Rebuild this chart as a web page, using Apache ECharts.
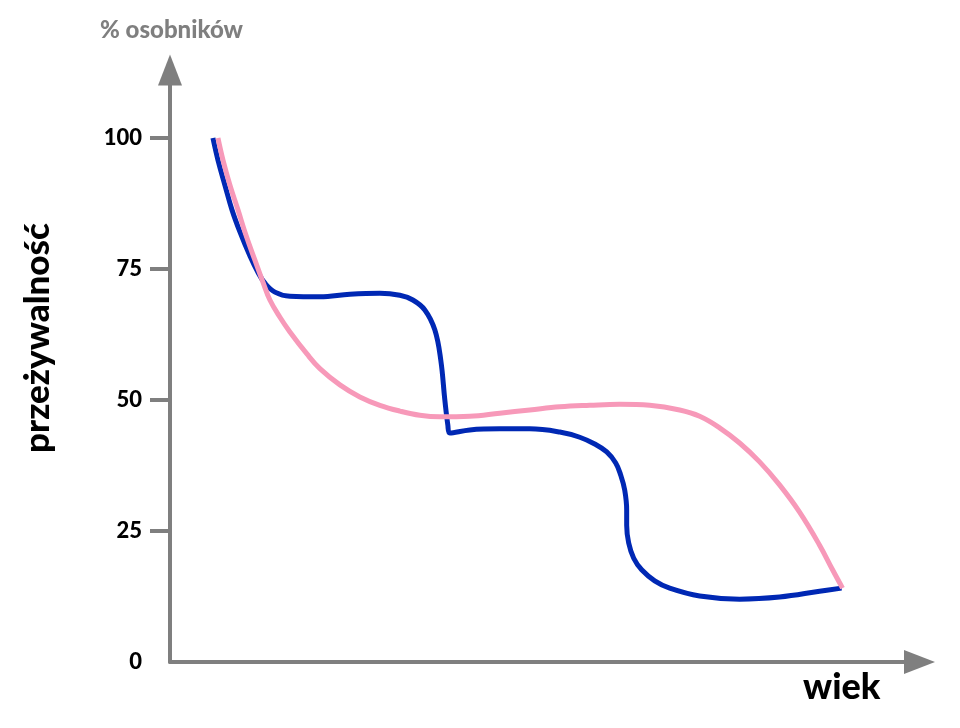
<!DOCTYPE html>
<html>
<head>
<meta charset="utf-8">
<script src="https://cdn.jsdelivr.net/npm/echarts@6/dist/echarts.min.js"></script>
<style>html,body{margin:0;padding:0;background:#fff}#c{width:960px;height:728px}</style>
</head>
<body>
<div id="c"></div>
<script>
// Tick labels on the survival axis
const yTicks = [0, 25, 50, 75, 100];

// Blue curve (wiek, przeżywalność %)
const blueX = [5.73, 6.4, 7.33, 8.27, 9.33, 10.67, 11.73, 12.67, 14.0, 16.0, 20.0, 24.0, 28.0, 30.67, 32.4, 34.0, 35.33, 36.13, 36.67, 37.07, 37.33, 40.0, 44.0, 48.0, 52.0, 54.67, 56.67, 58.27, 59.47, 60.13, 60.67, 60.93, 60.93, 61.2, 61.87, 62.93, 64.67, 66.67, 70.67, 76.0, 81.33, 86.67, 89.6];
const blueY = [100, 95.8, 91.0, 86.3, 82.1, 77.5, 74.4, 72.3, 70.6, 69.8, 69.7, 70.2, 70.4, 70.0, 69.1, 67.2, 63.4, 57.6, 50.0, 45.2, 43.7, 44.3, 44.5, 44.5, 43.9, 42.9, 41.6, 40.1, 38.0, 35.7, 32.8, 29.0, 26.1, 22.7, 19.8, 17.6, 15.5, 14.1, 12.6, 12.0, 12.4, 13.5, 14.1];

// Pink curve
const pinkX = [6.4, 7.07, 8.0, 9.07, 10.13, 11.33, 12.4, 13.33, 14.67, 16.0, 18.27, 20.0, 22.67, 25.33, 28.0, 30.67, 33.33, 36.0, 40.0, 44.0, 48.0, 52.0, 56.0, 60.0, 64.0, 68.0, 70.67, 73.33, 76.0, 78.67, 81.33, 84.0, 86.67, 88.4, 89.73];
const pinkY = [100, 95.8, 91.0, 86.3, 81.5, 76.7, 72.5, 69.1, 65.8, 63.0, 58.8, 56.0, 52.9, 50.6, 49.0, 47.9, 47.1, 46.8, 46.9, 47.5, 48.1, 48.7, 49.0, 49.2, 49.0, 48.1, 46.9, 44.7, 41.8, 38.2, 33.8, 28.6, 22.3, 17.6, 14.1];

const zip = (xs, ys) => xs.map((x, i) => [x, ys[i]]);
const gray = '#7f7f7f';
const font = 'Lato, "Open Sans", sans-serif';

const chart = echarts.init(document.getElementById('c'), null, {renderer: 'canvas'});
chart.setOption({
  animation: false,
  backgroundColor: '#fff',
  title: {
    text: '% osobników',
    left: 95, top: 13,
    textStyle: {color: gray, fontSize: 24, fontWeight: 900, fontFamily: font}
  },
  grid: {left: 170, right: 40.5, top: 70, bottom: 66},
  xAxis: {
    type: 'value', min: 0, max: 100,
    splitLine: {show: false},
    axisTick: {show: false},
    axisLabel: {show: false},
    axisLine: {show: true, lineStyle: {color: gray, width: 4},
      symbol: ['none', 'triangle'], symbolSize: [24, 31]}
  },
  yAxis: {
    type: 'value', min: 0, max: 113,
    splitLine: {show: false},
    axisLine: {show: true, lineStyle: {color: gray, width: 4},
      symbol: ['none', 'triangle'], symbolSize: [24, 31]},
    axisTick: {show: true, length: 20, lineStyle: {color: gray, width: 4}, customValues: [25, 50, 75, 100]},
    axisLabel: {customValues: yTicks, margin: 28, color: '#000', fontSize: 22, fontWeight: 900, fontFamily: font}
  },
  graphic: [
    {type: 'text', left: 803, top: 669, style: {text: 'wiek', fontSize: 36, fontWeight: 900, fontFamily: font, fill: '#000'}},
    {type: 'text', x: 20, y: 338, rotation: Math.PI / 2,
      style: {text: 'przeżywalność', fontSize: 35, fontWeight: 900, fontFamily: font, fill: '#000', align: 'center', verticalAlign: 'top'}}
  ],
  series: [
    {type: 'line', data: zip(blueX, blueY), smooth: 0.4, symbol: 'none',
      lineStyle: {color: '#0028b4', width: 5}},
    {type: 'line', data: zip(pinkX, pinkY), smooth: 0.4, symbol: 'none',
      lineStyle: {color: '#f799b9', width: 5}}
  ]
});
</script>
</body>
</html>
